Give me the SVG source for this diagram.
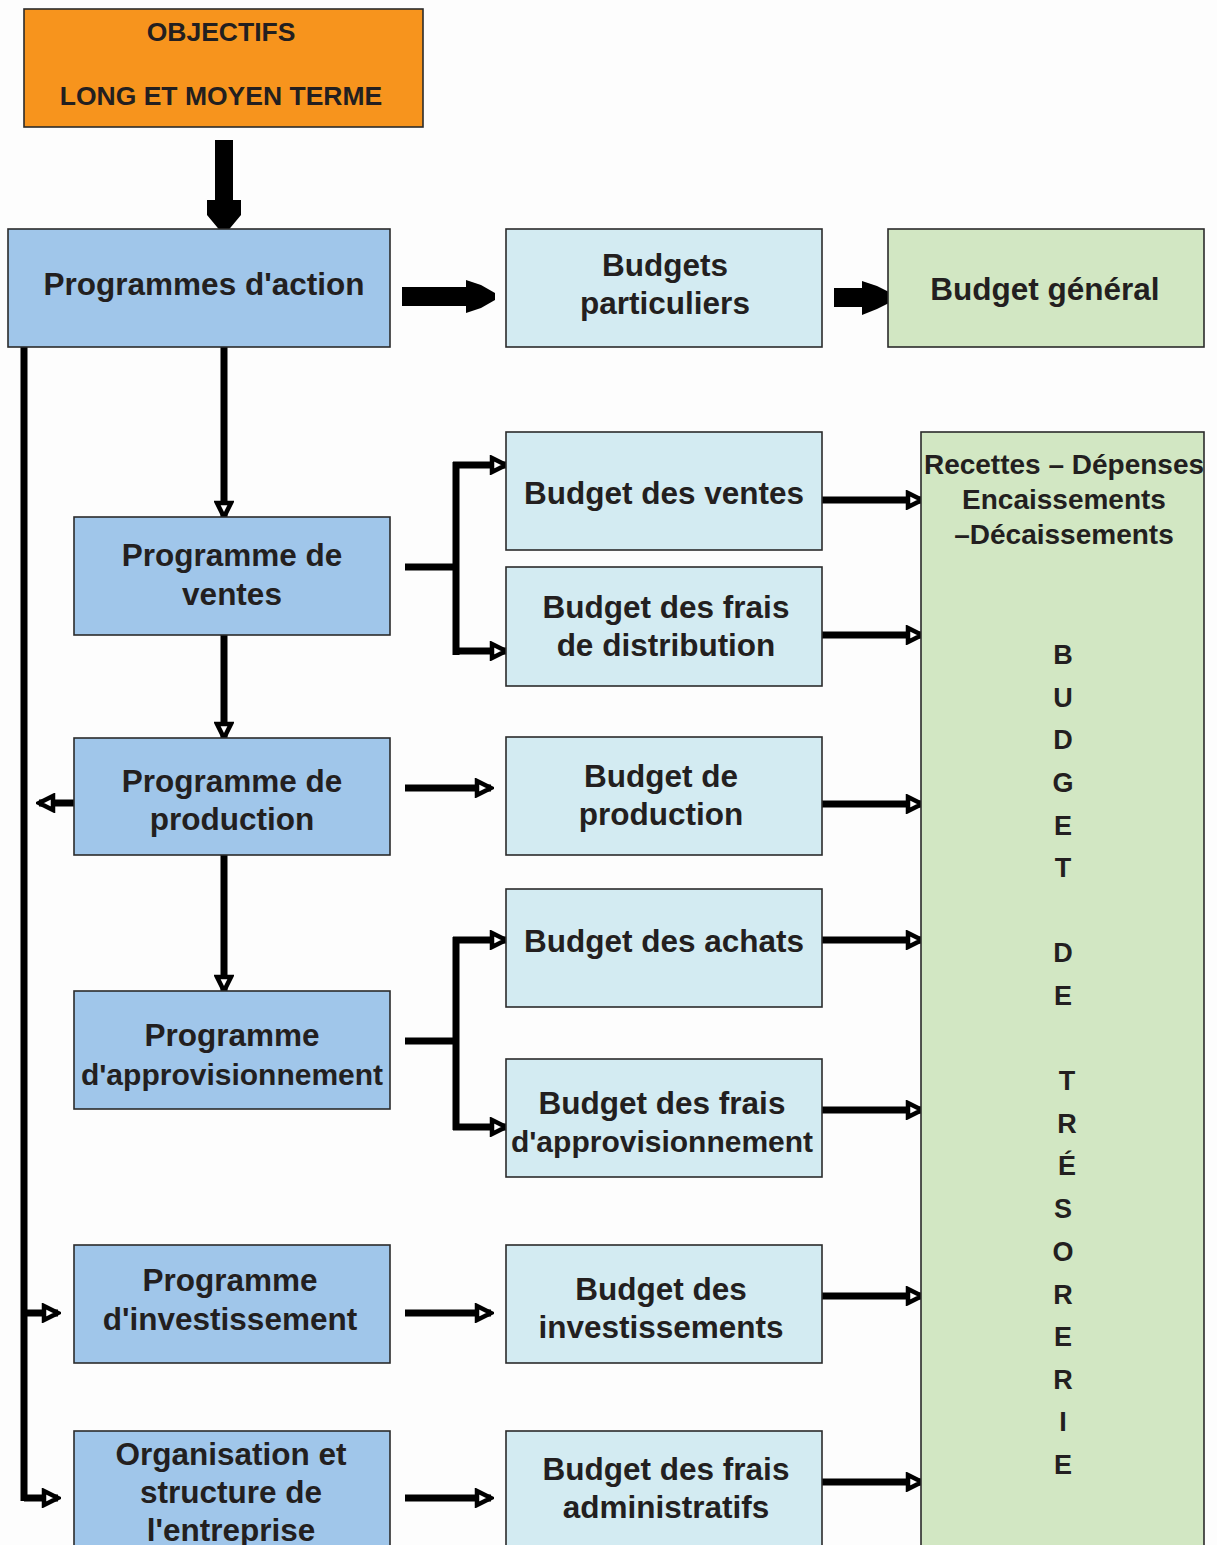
<svg xmlns="http://www.w3.org/2000/svg" width="1217" height="1545" viewBox="0 0 1217 1545">
<style>
text{font-family:"Liberation Sans",Arial,sans-serif;font-weight:bold;fill:#231F20;text-anchor:middle}
.t{font-size:31.5px}
.n{font-size:30px}
.s{font-size:26.5px}
.v{font-size:27px}
.r{font-size:28px}
.box{stroke:#2b2b2b;stroke-width:1.6}
.org{fill:#F7941D}
.prog{fill:#A0C6EA}
.bud{fill:#D3EBF2}
.gen{fill:#D2E7C3}
.ln{stroke:#000;stroke-width:7;fill:none}
.big{fill:#000}
</style>
<defs>
<marker id="ah" markerUnits="userSpaceOnUse" viewBox="0 0 20 20" markerWidth="20" markerHeight="20" refX="17" refY="10" orient="auto">
<path d="M3,3 L17,10 L3,17 Z" fill="#fff" stroke="#000" stroke-width="4.5" stroke-linejoin="miter"/>
</marker>
</defs>
<rect width="1217" height="1545" fill="#FDFDFD"/>

<g id="connectors">
<polygon class="big" points="215,140 233,140 233,200 241,200 241,215 226,233 222,233 207,215 207,200 215,200"/>
<polygon class="big" points="402,287 466,287 466,280 481,285 495,293 495,300 481,308 466,313 466,306 402,306"/>
<polygon class="big" points="834,288 862,288 862,281 877,286 893,294 893,301 877,309 862,315 862,307 834,307"/>
<line class="ln" x1="24" y1="347" x2="24" y2="1501"/>
<path class="ln" d="M24,1313 H58" marker-end="url(#ah)"/>
<path class="ln" d="M24,1498 H58" marker-end="url(#ah)"/>
<path class="ln" d="M224,347 V517" marker-end="url(#ah)"/>
<path class="ln" d="M224,635 V738" marker-end="url(#ah)"/>
<path class="ln" d="M224,855 V991" marker-end="url(#ah)"/>
<path class="ln" d="M74,803 H39" marker-end="url(#ah)"/>
<path class="ln" d="M405,567 H456"/>
<path class="ln" d="M456,462 V655"/>
<path class="ln" d="M453,465 H506" marker-end="url(#ah)"/>
<path class="ln" d="M453,651 H506" marker-end="url(#ah)"/>
<path class="ln" d="M405,788 H491" marker-end="url(#ah)"/>
<path class="ln" d="M405,1041 H456"/>
<path class="ln" d="M456,937 V1130"/>
<path class="ln" d="M453,940 H506" marker-end="url(#ah)"/>
<path class="ln" d="M453,1127 H506" marker-end="url(#ah)"/>
<path class="ln" d="M405,1313 H491" marker-end="url(#ah)"/>
<path class="ln" d="M405,1498 H491" marker-end="url(#ah)"/>
<path class="ln" d="M820,500 H922" marker-end="url(#ah)"/>
<path class="ln" d="M820,635 H922" marker-end="url(#ah)"/>
<path class="ln" d="M820,804 H922" marker-end="url(#ah)"/>
<path class="ln" d="M820,940 H922" marker-end="url(#ah)"/>
<path class="ln" d="M820,1110 H922" marker-end="url(#ah)"/>
<path class="ln" d="M820,1296 H922" marker-end="url(#ah)"/>
<path class="ln" d="M820,1482 H922" marker-end="url(#ah)"/>
</g>

<g id="objectifs">
<rect class="box org" x="24" y="9" width="399" height="118"/>
<text class="s" x="221" y="41">OBJECTIFS</text>
<text class="s" x="221" y="105">LONG ET MOYEN TERME</text>
</g>
<g id="programmes-action">
<rect class="box prog" x="8" y="229" width="382" height="118"/>
<text class="t" x="204" y="295">Programmes d'action</text>
</g>
<g id="budgets-particuliers">
<rect class="box bud" x="506" y="229" width="316" height="118"/>
<text class="t" x="665" y="276">Budgets</text>
<text class="t" x="665" y="314">particuliers</text>
</g>
<g id="budget-general">
<rect class="box gen" x="888" y="229" width="316" height="118"/>
<text class="t" x="1045" y="300">Budget général</text>
</g>

<g id="programme-ventes">
<rect class="box prog" x="74" y="517" width="316" height="118"/>
<text class="t" x="232" y="566">Programme de</text>
<text class="t" x="232" y="605">ventes</text>
</g>
<g id="programme-production">
<rect class="box prog" x="74" y="738" width="316" height="117"/>
<text class="t" x="232" y="792">Programme de</text>
<text class="t" x="232" y="830">production</text>
</g>
<g id="programme-approvisionnement">
<rect class="box prog" x="74" y="991" width="316" height="118"/>
<text class="t" x="232" y="1046">Programme</text>
<text class="n" x="232" y="1085">d'approvisionnement</text>
</g>
<g id="programme-investissement">
<rect class="box prog" x="74" y="1245" width="316" height="118"/>
<text class="t" x="230" y="1291">Programme</text>
<text class="t" x="230" y="1330">d'investissement</text>
</g>
<g id="organisation">
<rect class="box prog" x="74" y="1431" width="316" height="130"/>
<text class="t" x="231" y="1465">Organisation et</text>
<text class="t" x="231" y="1503">structure de</text>
<text class="t" x="231" y="1541">l'entreprise</text>
</g>

<g id="budget-ventes">
<rect class="box bud" x="506" y="432" width="316" height="118"/>
<text class="t" x="664" y="504">Budget des ventes</text>
</g>
<g id="budget-distribution">
<rect class="box bud" x="506" y="567" width="316" height="119"/>
<text class="t" x="666" y="618">Budget des frais</text>
<text class="t" x="666" y="656">de distribution</text>
</g>
<g id="budget-production">
<rect class="box bud" x="506" y="737" width="316" height="118"/>
<text class="t" x="661" y="787">Budget de</text>
<text class="t" x="661" y="825">production</text>
</g>
<g id="budget-achats">
<rect class="box bud" x="506" y="889" width="316" height="118"/>
<text class="t" x="664" y="952">Budget des achats</text>
</g>
<g id="budget-frais-approvisionnement">
<rect class="box bud" x="506" y="1059" width="316" height="118"/>
<text class="t" x="662" y="1114">Budget des frais</text>
<text class="n" x="662" y="1152">d'approvisionnement</text>
</g>
<g id="budget-investissements">
<rect class="box bud" x="506" y="1245" width="316" height="118"/>
<text class="t" x="661" y="1300">Budget des</text>
<text class="t" x="661" y="1338">investissements</text>
</g>
<g id="budget-administratifs">
<rect class="box bud" x="506" y="1431" width="316" height="130"/>
<text class="t" x="666" y="1480">Budget des frais</text>
<text class="t" x="666" y="1518">administratifs</text>
</g>

<g id="budget-tresorerie">
<rect class="box gen" x="921" y="432" width="283" height="1130"/>
<text class="r" x="1064" y="474">Recettes – Dépenses</text>
<text class="r" x="1064" y="509">Encaissements</text>
<text class="r" x="1064" y="544">–Décaissements</text>
<text class="v" x="1063" y="664">B</text>
<text class="v" x="1063" y="707">U</text>
<text class="v" x="1063" y="749">D</text>
<text class="v" x="1063" y="792">G</text>
<text class="v" x="1063" y="835">E</text>
<text class="v" x="1063" y="877">T</text>
<text class="v" x="1063" y="962">D</text>
<text class="v" x="1063" y="1005">E</text>
<text class="v" x="1067" y="1090">T</text>
<text class="v" x="1067" y="1133">R</text>
<text class="v" x="1067" y="1175">É</text>
<text class="v" x="1063" y="1218">S</text>
<text class="v" x="1063" y="1261">O</text>
<text class="v" x="1063" y="1304">R</text>
<text class="v" x="1063" y="1346">E</text>
<text class="v" x="1063" y="1389">R</text>
<text class="v" x="1063" y="1431">I</text>
<text class="v" x="1063" y="1474">E</text>
</g>
</svg>
